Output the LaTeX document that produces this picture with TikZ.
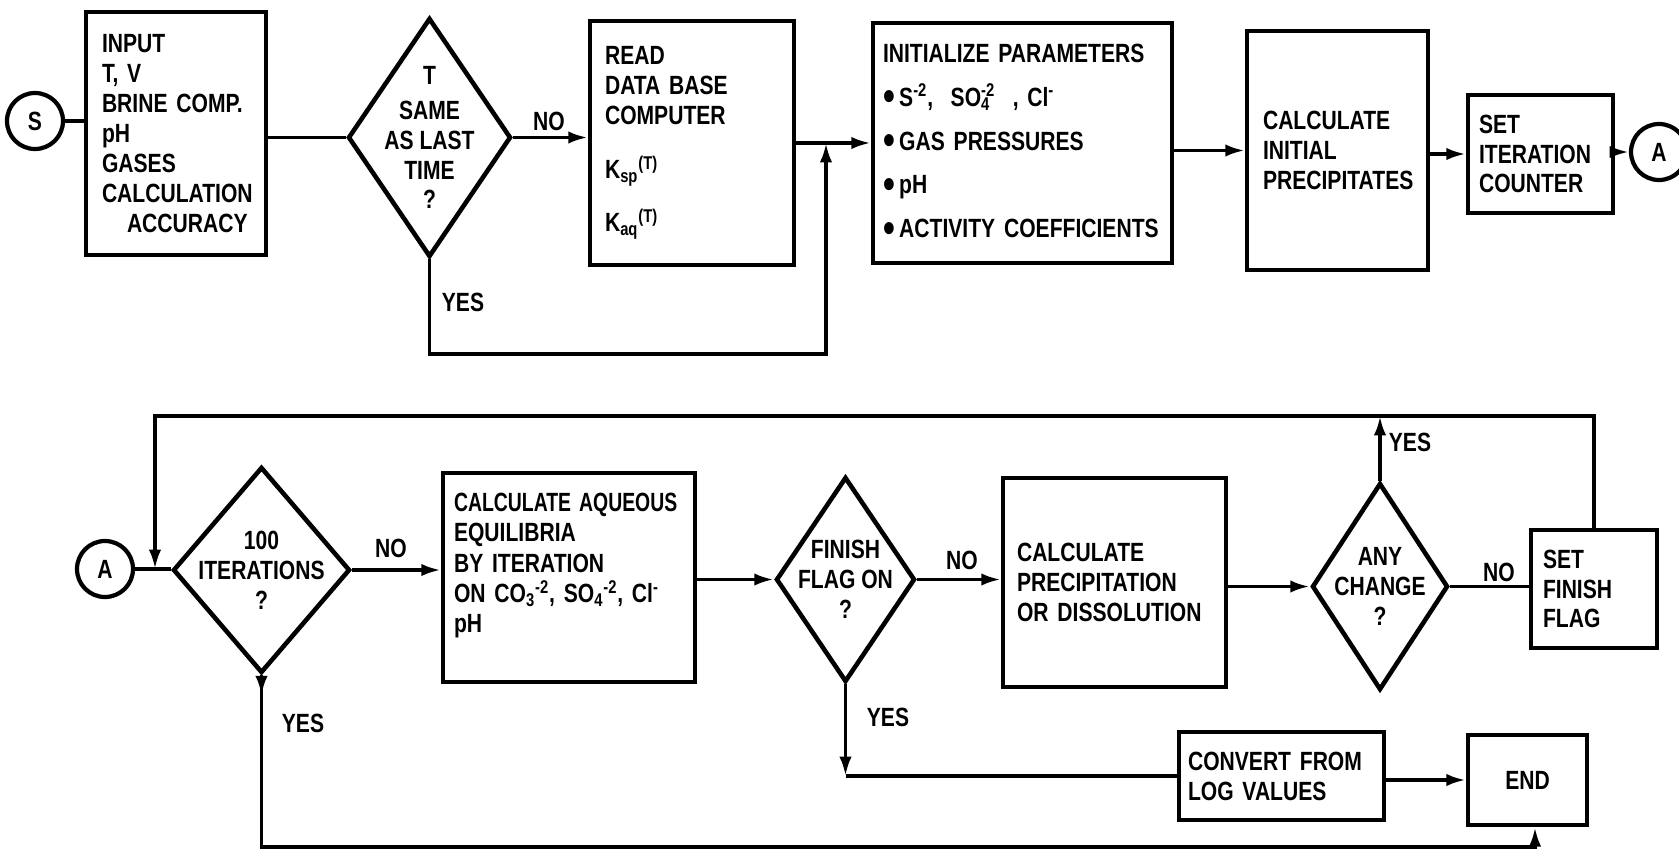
\documentclass[tikz,border=0pt]{standalone}
\usepackage{fontspec}
\usepackage{graphicx}
\setmainfont{Liberation Sans}[FakeStretch=0.8]
\usetikzlibrary{shapes.geometric,arrows.meta}
\hyphenpenalty=10000
\newcommand\bul{\raisebox{-2.5pt}{\fontsize{24}{17}\selectfont\textbullet}}
\begin{document}
\begin{tikzpicture}[x=0.02cm,y=-0.02cm,>={Latex[length=11pt,width=7pt]},
	every node/.style={font=\fontsize{15}{17}\selectfont\bfseries},
	box/.style={draw,line width=2.6pt,align=left,inner ysep=0pt},
	decide/.style={diamond,draw,line width=2.6pt,inner sep=0pt},
	conn/.style={circle,draw,line width=2.4pt,minimum size=1.12cm,inner sep=0pt},
	flow/.style={line width=2pt}]
	\useasboundingbox (0,0) rectangle (1679,855);
	\node[conn] (S) at (35,121) {S};
	\node[box,minimum width=3.6cm,minimum height=4.86cm,inner xsep=0.32cm,text width=2.96cm] (inp) at (176,133.5) {INPUT\\T, V\\BRINE COMP.\\pH\\GASES\\CALCULATION\\\hspace*{0.5cm}ACCURACY};
	\node[decide,minimum width=3.26cm,minimum height=4.78cm,label={[align=center]center:{T\\[3pt]SAME\\AS LAST\\TIME\\?}}] (d1) at (429.5,137.5) {};
	\node[box,minimum width=4.08cm,minimum height=4.88cm,inner xsep=0.3cm,text width=3.48cm] (read) at (692,143) {READ\\DATA BASE\\COMPUTER\\[14pt]K\textsubscript{sp}\textsuperscript{(T)}\\[12pt]K\textsubscript{aq}\textsuperscript{(T)}};
	\node[box,minimum width=5.98cm,minimum height=4.8cm,inner xsep=0.2cm,text width=5.58cm] (init) at (1022.5,143) {INITIALIZE PARAMETERS\\[8pt]\bul\,S\textsuperscript{-2}, \ SO\rlap{\textsubscript{4}}\textsuperscript{-2} \ , Cl\textsuperscript{-}\\[8pt]\bul\,GAS PRESSURES\\[8pt]\bul\,pH\\[8pt]\bul\,ACTIVITY COEFFICIENTS};
	\node[box,minimum width=3.62cm,minimum height=4.78cm,inner xsep=0.32cm,text width=2.98cm] (calc) at (1337.5,150.5) {CALCULATE\\INITIAL\\PRECIPITATES};
	\node[box,minimum width=2.9cm,minimum height=2.36cm,inner xsep=0.22cm,text width=2.46cm] (set) at (1540.5,154) {SET\\ITERATION\\COUNTER};
	\node[conn] (A1) at (1659,152) {A};
	\draw[flow] (S.east) -- (S.east -| inp.west);
	\draw[flow] (d1.west -| inp.east) -- (d1.west);
	\draw[flow,->] (d1.east) -- (d1.east -| read.west);
	\draw[flow,->] (read.east) -- (init.west);
	\coordinate (j1) at (826,143); \coordinate (b1) at (826,354);
	\draw[flow,->] (d1.south) |- (b1) -- (j1);
	\draw[flow,->] (init.east |- calc.west) -- (calc.west);
	\draw[flow,->] (calc.east |- set.west) -- (set.west);
	\draw[flow,->] (set.east |- A1) -- (A1.west);
	\node (no1) at (549,121) {NO}; \node (yes1) at (463,302) {YES};
	\node[conn] (A2) at (105,569) {A};
	\node[decide,minimum width=3.54cm,minimum height=4.12cm,label={[align=center]center:{100\\ITERATIONS\\?}}] (d2) at (261.5,570) {};
	\node[box,minimum width=5.04cm,minimum height=4.18cm,inner xsep=0.22cm,text width=4.6cm] (aq) at (569,577.5) {\scalebox{0.92}[1]{CALCULATE AQUEOUS}\\EQUILIBRIA\\[1pt]BY ITERATION\\ON CO\textsubscript{3}\textsuperscript{-2}, SO\textsubscript{4}\textsuperscript{-2}, Cl\textsuperscript{-}\\pH\\~};
	\node[decide,minimum width=2.78cm,minimum height=4.1cm,label={[align=center]center:{FINISH\\FLAG ON\\?}}] (d3) at (845.5,579.5) {};
	\node[box,minimum width=4.46cm,minimum height=4.18cm,inner xsep=0.28cm,text width=3.9cm] (prec) at (1114.5,582.5) {CALCULATE\\PRECIPITATION\\OR DISSOLUTION};
	\node[decide,minimum width=2.72cm,minimum height=4.14cm,label={[align=center]center:{ANY\\CHANGE\\?}}] (d4) at (1380,586.5) {};
	\node[box,minimum width=2.52cm,minimum height=2.36cm,inner xsep=0.24cm,text width=2.04cm] (setf) at (1594,589) {SET\\FINISH\\FLAG};
	\node[box,minimum width=4.1cm,minimum height=1.76cm,inner xsep=0.18cm,text width=3.74cm] (conv) at (1281.5,776) {CONVERT FROM\\LOG VALUES};
	\node[box,minimum width=2.38cm,minimum height=1.8cm] (end) at (1527.5,780) {END};
	\draw[flow] (A2.east) -- (A2.east -| d2.west);
	\coordinate (t1) at (155,416); \coordinate (j2) at (155,569);
	\draw[flow,->] (setf.north) |- (t1) -- (j2);
	\draw[flow,->] (d4.north) -- (d4.north |- t1);
	\draw[flow,->] (d2.east) -- (d2.east -| aq.west);
	\draw[flow,->] (aq.east |- d3.west) -- (d3.west);
	\draw[flow,->] (d3.east) -- (d3.east -| prec.west);
	\draw[flow,->] (prec.east |- d4.west) -- (d4.west);
	\draw[flow] (d4.east) -- (d4.east -| setf.west);
	\coordinate (c3) at (d3.south |- conv.west);
	\draw[flow,->] (d3.south) -- (c3); \draw[flow] (c3) -- (conv.west);
	\draw[flow,->] (conv.east |- end.west) -- (end.west);
	\coordinate (b2) at (1535,847);
	\draw[flow,->] (d2.south) -- ++(0,20); \draw[flow,->] (d2.south) |- (b2) -- (b2 |- end.south);
	\node (no2) at (391,548) {NO}; \node (yes2) at (303,723) {YES};
	\node (no3) at (962,560) {NO}; \node (yes3) at (888,717) {YES};
	\node (yes4) at (1410,442) {YES}; \node (no4) at (1499,572) {NO};
\end{tikzpicture}
\end{document}
